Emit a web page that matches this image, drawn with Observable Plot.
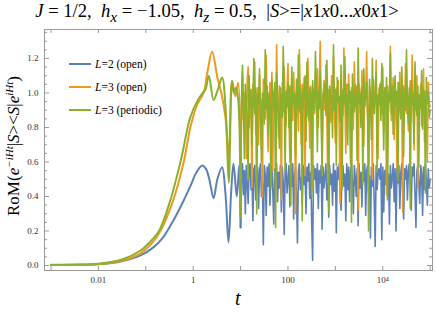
<!DOCTYPE html>
<html><head><meta charset="utf-8">
<script src="https://cdn.jsdelivr.net/npm/d3@7"></script>
<script src="https://cdn.jsdelivr.net/npm/@observablehq/plot@0.6"></script>
<style>
body{margin:0;background:#fff;}
#wrap{position:relative;width:436px;height:316px;overflow:hidden;font-family:"Liberation Serif","Times New Roman",serif;color:#000;}
#title{position:absolute;left:0;top:0px;width:434px;text-align:center;font-size:18.6px;white-space:pre;line-height:22px;}
#ylab{position:absolute;left:14px;top:146px;transform:translate(-50%,-50%) rotate(-90deg);white-space:nowrap;font-size:17px;}
#ylab sup{font-size:11px;vertical-align:6px;line-height:0;}
#xlab{position:absolute;left:235px;top:287px;font-size:20px;font-style:italic;}
.leg{position:absolute;left:69px;width:22px;height:2px;}
.legt{position:absolute;left:95px;font-size:11.5px;white-space:nowrap;line-height:14px;}
#chart{position:absolute;left:0;top:0;}
</style></head>
<body>
<div id="wrap">
<div id="chart"></div>
<div id="title"><i>J</i> = 1/2,  <i>h</i><sub><i>x</i></sub> = −1.05,  <i>h</i><sub><i>z</i></sub> = 0.5,  |<i>S</i>&gt;=|<i>x</i>1<i>x</i>0...<i>x</i>0<i>x</i>1&gt;</div>
<div id="ylab">RoM(<i>e</i><sup><i>−iHt</i></sup>|<i>S</i>&gt;&lt;<i>S</i>|<i>e</i><sup><i>iHt</i></sup>)</div>
<div id="xlab">t</div>
<div id="legend"></div>
</div>
<script>
// ---- data ----
const seriesNames = ["L=2 (open)", "L=3 (open)", "L=3 (periodic)"];
const seriesColors = ["#5E81B5", "#EC9B1E", "#8BB02C"];

// smooth early-time parts: log10(t) and values
const blueSmoothLogT = [-3, -2.5, -2, -1.5, -1.1, -0.84, -0.63, -0.42, -0.2, -0.06, 0.07, 0.19, 0.27, 0.34, 0.43, 0.51, 0.61, 0.68, 0.745, 0.8, 0.85, 0.92, 0.97];
const blueSmoothVal  = [0.003, 0.004, 0.007, 0.025, 0.06, 0.105, 0.165, 0.26, 0.377, 0.46, 0.54, 0.58, 0.56, 0.5, 0.39, 0.5, 0.57, 0.42, 0.135, 0.42, 0.59, 0.4, 0.58];

const orangeSmoothLogT = [-3, -2.5, -2, -1.5, -1.11, -0.9, -0.69, -0.42, -0.2, -0.06, 0.08, 0.22, 0.3, 0.4, 0.51, 0.61, 0.68, 0.75, 0.82, 0.89, 0.95];
const orangeSmoothVal  = [0.003, 0.004, 0.008, 0.028, 0.07, 0.12, 0.2, 0.38, 0.6, 0.8, 0.93, 1.0, 1.12, 1.24, 1.09, 0.98, 0.86, 0.64, 1.07, 0.98, 1.06];

const greenSmoothLogT = [-3, -2.5, -2, -1.5, -1.11, -0.9, -0.72, -0.48, -0.26, -0.06, 0.1, 0.2, 0.26, 0.33, 0.43, 0.52, 0.61, 0.69, 0.75, 0.82, 0.86, 0.9, 0.95];
const greenSmoothVal  = [0.004, 0.005, 0.01, 0.035, 0.087, 0.14, 0.2, 0.38, 0.61, 0.86, 0.96, 1.0, 1.02, 1.1, 0.96, 1.02, 1.09, 0.88, 0.48, 1.07, 1.0, 1.03, 0.96];

// late-time fluctuating part: log10(t) grid and values
const noiseLogT = [
1.00,1.02,1.04,1.06,1.08,1.10,1.12,1.14,1.16,1.18,
1.20,1.22,1.24,1.26,1.28,1.30,1.32,1.34,1.36,1.38,
1.40,1.42,1.44,1.46,1.48,1.50,1.52,1.54,1.56,1.58,
1.60,1.62,1.64,1.66,1.68,1.70,1.72,1.74,1.76,1.78,
1.80,1.82,1.84,1.86,1.88,1.90,1.92,1.94,1.96,1.98,
2.00,2.02,2.04,2.06,2.08,2.10,2.12,2.14,2.16,2.18,
2.20,2.22,2.24,2.26,2.28,2.30,2.32,2.34,2.36,2.38,
2.40,2.42,2.44,2.46,2.48,2.50,2.52,2.54,2.56,2.58,
2.60,2.62,2.64,2.66,2.68,2.70,2.72,2.74,2.76,2.78,
2.80,2.82,2.84,2.86,2.88,2.90,2.92,2.94,2.96,2.98,
3.00,3.02,3.04,3.06,3.08,3.10,3.12,3.14,3.16,3.18,
3.20,3.22,3.24,3.26,3.28,3.30,3.32,3.34,3.36,3.38,
3.40,3.42,3.44,3.46,3.48,3.50,3.52,3.54,3.56,3.58,
3.60,3.62,3.64,3.66,3.68,3.70,3.72,3.74,3.76,3.78,
3.80,3.82,3.84,3.86,3.88,3.90,3.92,3.94,3.96,3.98,
4.00,4.02,4.04,4.06,4.08,4.10,4.12,4.14,4.16,4.18,
4.20,4.22,4.24,4.26,4.28,4.30,4.32,4.34,4.36,4.38,
4.40,4.42,4.44,4.46,4.48,4.50,4.52,4.54,4.56,4.58,
4.60,4.62,4.64,4.66,4.68,4.70,4.72,4.74,4.76,4.78,
4.80,4.82,4.84,4.86,4.88,4.90,4.92,4.94,4.96,4.98,
5.00];
const blueNoise = [
0.22,0.50,0.59,0.41,0.55,0.30,0.58,0.47,0.36,0.57,
0.59,0.44,0.52,0.26,0.56,0.58,0.38,0.49,0.57,0.33,
0.55,0.59,0.40,0.48,0.12,0.58,0.53,0.29,0.57,0.46,
0.59,0.35,0.51,0.58,0.43,0.24,0.56,0.50,0.59,0.37,
0.54,0.45,0.58,0.31,0.57,0.48,0.18,0.55,0.59,0.42,
0.50,0.58,0.34,0.56,0.46,0.59,0.27,0.53,0.57,0.40,
0.13,0.55,0.59,0.44,0.51,0.36,0.58,0.47,0.56,0.30,
0.57,0.49,0.59,0.39,0.54,0.25,0.03,0.58,0.50,0.56,
0.42,0.59,0.33,0.55,0.48,0.58,0.21,0.57,0.45,0.52,
0.59,0.38,0.56,0.28,0.58,0.47,0.53,0.35,0.59,0.43,
0.55,0.19,0.57,0.50,0.59,0.41,0.32,0.56,0.58,0.46,
0.53,0.26,0.59,0.44,0.57,0.37,0.55,0.59,0.48,0.30,
0.58,0.51,0.40,0.56,0.23,0.59,0.45,0.54,0.34,0.57,
0.49,0.59,0.29,0.55,0.58,0.42,0.52,0.16,0.57,0.46,
0.59,0.36,0.11,0.58,0.44,0.54,0.56,0.50,0.59,0.15,
0.57,0.31,0.55,0.47,0.59,0.40,0.53,0.24,0.58,0.45,
0.51,0.59,0.37,0.56,0.20,0.57,0.48,0.58,0.33,0.54,
0.59,0.43,0.27,0.56,0.50,0.58,0.38,0.55,0.59,0.46,
0.32,0.57,0.52,0.59,0.41,0.22,0.55,0.58,0.47,0.36,
0.58,0.53,0.29,0.57,0.44,0.59,0.49,0.35,0.56,0.45,
0.50];
const orangeNoise = [
0.35,0.90,1.12,0.84,1.00,0.95,0.62,1.08,1.15,0.80,
0.97,0.88,0.45,1.05,0.92,1.18,0.76,0.99,1.03,0.70,
1.10,0.86,0.96,0.40,1.08,1.01,0.85,1.22,0.90,0.66,
0.95,1.06,0.83,1.12,0.55,1.01,0.93,0.82,1.28,0.97,
0.74,1.04,0.96,0.38,1.06,0.89,1.15,0.94,0.81,1.02,
1.17,0.87,0.60,0.98,1.09,0.84,1.12,0.92,0.30,1.03,
0.95,0.78,1.25,0.99,0.70,1.05,0.91,1.09,0.52,1.00,
0.86,1.20,0.94,0.68,1.04,0.97,0.44,1.02,0.88,1.11,
0.97,1.14,0.80,1.02,1.30,0.91,0.63,0.99,1.07,0.90,
1.16,0.85,0.48,1.02,0.95,0.83,1.10,0.94,1.21,0.88,
0.71,1.03,0.96,1.07,0.80,0.36,1.00,0.93,0.87,1.26,
0.98,0.65,1.05,0.93,1.11,0.84,0.58,1.03,0.97,0.79,
1.18,0.92,1.04,0.86,0.32,1.05,0.99,0.85,1.13,0.94,
0.69,1.01,0.98,1.24,0.87,0.75,1.04,0.96,1.01,0.50,
1.08,0.90,0.97,1.19,0.82,0.62,1.03,0.95,1.06,0.88,
1.15,0.77,0.99,0.93,0.41,1.04,0.89,1.00,1.27,0.84,
0.96,1.09,0.73,1.02,0.94,0.56,1.06,0.91,1.12,0.86,
0.99,0.31,1.04,0.92,1.17,0.88,1.01,0.78,0.95,1.07,
0.83,1.22,0.97,0.67,1.03,0.90,1.10,0.45,0.99,0.93,
1.05,0.81,0.96,1.14,0.72,1.01,0.89,0.60,1.06,0.94,
0.92];
const greenNoise = [
0.28,0.98,1.16,0.90,0.62,1.05,0.97,0.85,0.50,1.10,
0.92,1.02,0.70,0.95,1.20,0.88,1.03,0.30,0.99,0.94,
1.14,0.83,0.60,1.00,0.98,0.82,1.25,0.91,1.04,0.75,
1.00,0.93,0.45,1.08,0.96,0.90,1.06,0.22,1.12,0.97,
0.87,0.68,1.03,0.95,0.86,1.27,0.99,0.55,1.01,0.92,
1.06,0.80,1.04,0.35,1.15,0.93,0.97,1.00,0.64,1.08,
0.91,1.22,0.89,1.04,0.96,0.26,1.02,0.97,1.10,0.72,
1.18,0.94,0.84,1.03,0.99,0.40,1.07,0.95,0.90,1.24,
0.98,0.66,1.01,0.91,1.13,0.87,0.52,1.00,0.96,1.05,
0.87,1.19,0.93,0.31,1.04,0.99,0.96,0.74,1.28,0.90,
1.02,0.58,1.09,0.95,0.98,0.83,1.16,0.44,1.02,0.93,
1.21,0.88,0.99,0.70,1.05,0.96,1.01,0.25,1.11,0.94,
0.89,1.05,0.97,0.61,1.26,0.94,1.00,0.80,1.03,0.47,
1.14,0.92,0.98,1.06,0.86,0.20,1.08,0.97,0.73,1.20,
0.95,0.88,1.01,1.12,0.54,0.99,0.93,1.05,0.84,1.17,
0.96,0.67,1.03,0.91,1.09,0.38,1.00,0.95,1.23,0.88,
1.04,0.76,0.97,1.10,0.92,1.01,0.49,1.06,0.94,0.85,
1.15,0.98,0.63,1.02,0.90,1.25,0.96,0.82,1.03,0.33,
1.07,0.93,1.00,0.71,1.18,0.95,0.87,1.04,0.57,0.99,
0.91,1.13,0.79,1.02,0.96,0.42,1.09,0.94,1.01,0.86,
0.90];

// axis ticks
const xTickValues = [0.001, 0.01, 0.1, 1, 10, 100, 1000, 10000, 100000];
const xLabelValues = [0.01, 1, 100, 10000];
const xLabelTexts = ["0.01", "1", "100", "10\u2074"];
const yMajor = [0, 0.2, 0.4, 0.6, 0.8, 1.0, 1.2];
const yMinor = [0.05,0.1,0.15,0.25,0.3,0.35,0.45,0.5,0.55,0.65,0.7,0.75,0.85,0.9,0.95,1.05,1.1,1.15,1.25,1.3,1.35];

// ---- build tables ----
function build(logT, vals, s) { return logT.map((l, i) => ({t: Math.pow(10, l), v: vals[i], s})); }
const smooth = [
  build(blueSmoothLogT, blueSmoothVal, 0).concat(build([noiseLogT[0]], [blueNoise[0]], 0)),
  build(orangeSmoothLogT, orangeSmoothVal, 1).concat(build([noiseLogT[0]], [orangeNoise[0]], 1)),
  build(greenSmoothLogT, greenSmoothVal, 2).concat(build([noiseLogT[0]], [greenNoise[0]], 2))
];
const noisy = [build(noiseLogT, blueNoise, 0), build(noiseLogT, orangeNoise, 1), build(noiseLogT, greenNoise, 2)];

const W = 436, H = 316, mL = 44, mR = 4, mT = 29, mB = 46;
const fw = W - mL - mR, fh = H - mT - mB;
const frameColor = "#9a9a9a";
const font = "Liberation Serif, Times New Roman, serif";

const lineMarks = [];
for (let s = 0; s < 3; s++) {
  lineMarks.push(Plot.line(smooth[s], {x: "t", y: "v", stroke: seriesColors[s], strokeWidth: 2, curve: "catmull-rom"}));
  lineMarks.push(Plot.line(noisy[s], {x: "t", y: "v", stroke: seriesColors[s], strokeWidth: 1.6, strokeLinejoin: "round"}));
}

const plot = Plot.plot({
  width: W, height: H,
  marginLeft: mL, marginRight: mR, marginTop: mT, marginBottom: mB,
  style: {fontFamily: font, background: "transparent"},
  x: {type: "log", domain: [Math.pow(10, -3.137), Math.pow(10, 5.049)]},
  y: {domain: [-0.029, 1.368]},
  marks: [
    ...lineMarks,
    Plot.frame({stroke: frameColor, strokeWidth: 1}),
    Plot.ruleX(xTickValues, {stroke: frameColor, insetTop: fh - 4}),
    Plot.ruleX(xTickValues, {stroke: frameColor, insetBottom: fh - 4}),
    Plot.ruleY(yMajor, {stroke: frameColor, insetRight: fw - 5}),
    Plot.ruleY(yMinor, {stroke: frameColor, insetRight: fw - 3}),
    Plot.ruleY(yMajor, {stroke: frameColor, insetLeft: fw - 5}),
    Plot.ruleY(yMinor, {stroke: frameColor, insetLeft: fw - 3}),
    Plot.axisX(xLabelValues, {tickSize: 0, tickPadding: 6, label: null, fontSize: 9, fill: "#333",
      tickFormat: d => xLabelTexts[xLabelValues.indexOf(d)]}),
    Plot.axisY(yMajor, {tickSize: 0, tickPadding: 6, label: null, fontSize: 9, fill: "#333",
      tickFormat: d => d.toFixed(1)})
  ]
});
document.getElementById("chart").appendChild(plot);

// legend
const legY = [64, 87, 110];
const leg = document.getElementById("legend");
seriesNames.forEach((name, i) => {
  const ln = document.createElement("div");
  ln.className = "leg"; ln.style.top = (legY[i] - 1) + "px"; ln.style.background = seriesColors[i];
  leg.appendChild(ln);
  const tx = document.createElement("div");
  tx.className = "legt"; tx.style.top = (legY[i] - 7) + "px";
  const m = name.match(/^L(=\d) (.*)$/);
  tx.innerHTML = "<i>L</i>" + m[1] + " " + m[2];
  leg.appendChild(tx);
});
</script>
</body></html>
